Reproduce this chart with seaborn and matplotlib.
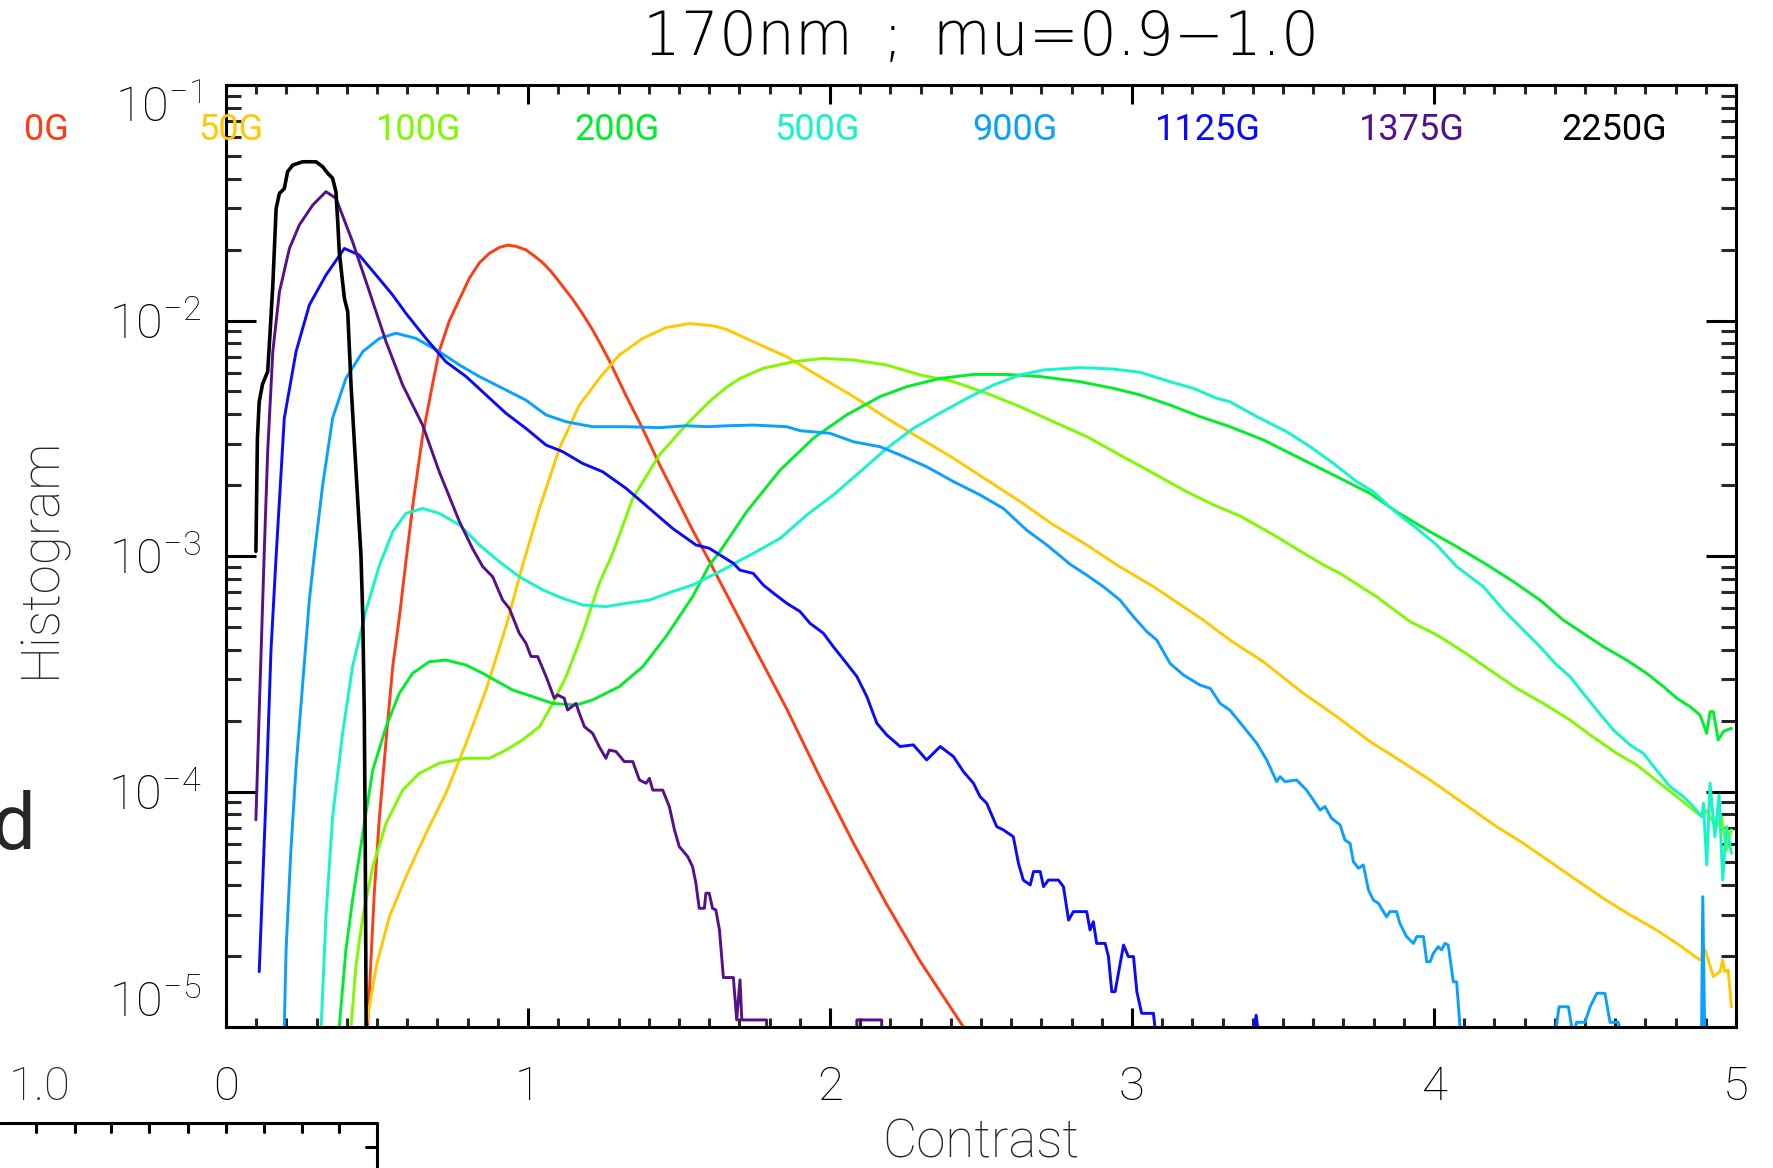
import numpy as np
import pandas as pd
import matplotlib
matplotlib.use("Agg")
import matplotlib.pyplot as plt
from matplotlib.lines import Line2D
from matplotlib.ticker import FixedLocator, FuncFormatter, MultipleLocator, LogLocator, NullFormatter
import seaborn as sns

# ---------------------------------------------------------------------------
# Contrast histograms at 170 nm, mu = 0.9-1.0, for several mean field bins.
# Values are log10(histogram); None splits a curve where the bins are empty.
# ---------------------------------------------------------------------------
fields = ["0G", "50G", "100G", "200G", "500G", "900G", "1125G", "1375G", "2250G"]
colors = ["#ff3c14", "#ffc800", "#7efa00", "#00ee2a", "#14f5c8",
          "#0aa0ff", "#0a0aff", "#55108c", "#000000"]

x_0G = [0.469, 0.491, 0.508, 0.535, 0.552, 0.574, 0.596, 0.62, 0.651, 0.684, 0.706, 0.74,
        0.773, 0.806, 0.839, 0.872, 0.905, 0.933, 0.96, 0.993, 1.02, 1.049, 1.075, 1.10,
        1.148, 1.18, 1.214, 1.24, 1.269, 1.325, 1.38, 1.435, 1.49, 1.545, 1.60, 1.636,
        1.746, 1.857, 1.967, 2.078, 2.188, 2.298, 2.37, 2.442]
lg_0G = [-5.0, -4.43, -4.11, -3.71, -3.47, -3.26, -3.02, -2.77, -2.49, -2.27, -2.13, -2.0,
         -1.91, -1.82, -1.755, -1.715, -1.69, -1.68, -1.685, -1.70, -1.725, -1.755, -1.79,
         -1.83, -1.91, -1.97, -2.04, -2.10, -2.17, -2.32, -2.46, -2.61, -2.75, -2.89, -3.02,
         -3.11, -3.38, -3.65, -3.94, -4.22, -4.48, -4.72, -4.86, -5.0]

x_50G = [0.464, 0.497, 0.541, 0.596, 0.662, 0.728, 0.795, 0.861, 0.927, 0.982, 1.038, 1.104,
         1.17, 1.236, 1.302, 1.38, 1.457, 1.534, 1.611, 1.656, 1.746, 1.857, 1.967, 2.078,
         2.188, 2.298, 2.409, 2.519, 2.63, 2.74, 2.85, 2.95, 3.071, 3.236, 3.3245, 3.435,
         3.567, 3.678, 3.788, 3.876, 3.987, 4.097, 4.207, 4.296, 4.384, 4.472, 4.561, 4.649,
         4.737, 4.804, 4.881, 4.898, 4.925, 4.947, 4.956, 4.963, 4.974, 4.985]
lg_50G = [-5.0, -4.744, -4.532, -4.362, -4.178, -4.008, -3.795, -3.569, -3.3, -3.04, -2.798,
          -2.543, -2.359, -2.246, -2.147, -2.076, -2.03, -2.013, -2.022, -2.037, -2.09, -2.154,
          -2.239, -2.323, -2.415, -2.5, -2.585, -2.677, -2.769, -2.868, -2.953, -3.038, -3.13,
          -3.272, -3.357, -3.449, -3.583, -3.682, -3.788, -3.859, -3.951, -4.05, -4.149,
          -4.22, -4.298, -4.376, -4.454, -4.524, -4.588, -4.645, -4.716, -4.673, -4.786,
          -4.765, -4.716, -4.765, -4.758, -4.914]

x_100G = [0.414, 0.43, 0.453, 0.486, 0.53, 0.585, 0.64, 0.706, 0.795, 0.872, 0.927, 0.982,
          1.038, 1.082, 1.126, 1.181, 1.236, 1.28, 1.347, 1.435, 1.523, 1.60, 1.656, 1.702,
          1.779, 1.879, 1.978, 2.078, 2.188, 2.298, 2.409, 2.519, 2.63, 2.74, 2.85, 2.96,
          3.071, 3.181, 3.27, 3.358, 3.479, 3.545, 3.634, 3.689, 3.81, 3.921, 4.009, 4.097,
          4.185, 4.274, 4.362, 4.45, 4.517, 4.605, 4.671, 4.748, 4.804, 4.859, 4.887, 4.903,
          4.92, 4.936, 4.952, 4.969, 4.985]
lg_100G = [-5.0, -4.744, -4.532, -4.319, -4.135, -3.994, -3.923, -3.88, -3.859, -3.859,
           -3.824, -3.781, -3.725, -3.626, -3.512, -3.328, -3.116, -2.99, -2.755, -2.571,
           -2.444, -2.345, -2.285, -2.246, -2.203, -2.175, -2.161, -2.168, -2.189, -2.231,
           -2.26, -2.309, -2.366, -2.43, -2.493, -2.571, -2.649, -2.727, -2.783, -2.83,
           -2.918, -2.97, -3.038, -3.074, -3.173, -3.279, -3.335, -3.406, -3.484, -3.562,
           -3.626, -3.696, -3.76, -3.838, -3.887, -3.965, -4.022, -4.079, -4.107, -4.079,
           -4.121, -4.149, -4.107, -4.248, -4.163]

x_200G = [0.375, 0.397, 0.419, 0.453, 0.486, 0.53, 0.574, 0.618, 0.673, 0.728, 0.795, 0.85,
          0.949, 1.015, 1.082, 1.159, 1.214, 1.302, 1.38, 1.457, 1.545, 1.60, 1.636, 1.724,
          1.835, 1.945, 2.055, 2.166, 2.254, 2.365, 2.475, 2.585, 2.696, 2.828, 2.938, 3.027,
          3.126, 3.225, 3.3245, 3.435, 3.567, 3.678, 3.788, 3.876, 3.987, 4.075, 4.185, 4.263,
          4.351, 4.428, 4.494, 4.561, 4.638, 4.704, 4.76, 4.804, 4.848, 4.881, 4.903, 4.914,
          4.925, 4.941, 4.958, 4.969, 4.985]
lg_200G = [-5.0, -4.673, -4.461, -4.178, -3.909, -3.725, -3.583, -3.498, -3.449, -3.442,
           -3.463, -3.498, -3.569, -3.597, -3.626, -3.633, -3.611, -3.555, -3.47, -3.342,
           -3.173, -3.04, -2.98, -2.812, -2.635, -2.5, -2.401, -2.323, -2.281, -2.246, -2.229,
           -2.229, -2.238, -2.26, -2.288, -2.316, -2.359, -2.408, -2.451, -2.507, -2.592,
           -2.663, -2.734, -2.812, -2.897, -2.96, -3.045, -3.109, -3.187, -3.272, -3.328,
           -3.385, -3.442, -3.498, -3.555, -3.604, -3.64, -3.675, -3.753, -3.661, -3.661,
           -3.781, -3.746, -3.739, -3.732]

x_500G = [0.315, 0.331, 0.353, 0.386, 0.419, 0.464, 0.508, 0.552, 0.596, 0.651, 0.706, 0.773,
          0.839, 0.905, 0.971, 1.049, 1.115, 1.181, 1.258, 1.325, 1.402, 1.479, 1.545, 1.60,
          1.656, 1.70, 1.746, 1.835, 1.923, 2.011, 2.1, 2.188, 2.276, 2.353, 2.453, 2.541,
          2.63, 2.707, 2.828, 2.938, 3.027, 3.126, 3.203, 3.28, 3.3245, 3.413, 3.512, 3.59,
          3.667, 3.744, 3.799, 3.865, 3.943, 4.009, 4.075, 4.163, 4.23, 4.285, 4.351, 4.401,
          4.45, 4.494, 4.539, 4.594, 4.649, 4.693, 4.737, 4.781, 4.826, 4.859, 4.887, 4.892,
          4.903, 4.914, 4.93, 4.944, 4.956, 4.969, 4.985]
lg_500G = [-5.0, -4.53, -4.107, -3.753, -3.47, -3.229, -3.04, -2.897, -2.819, -2.798, -2.819,
           -2.868, -2.953, -3.024, -3.088, -3.144, -3.18, -3.208, -3.215, -3.201, -3.187,
           -3.151, -3.123, -3.088, -3.052, -3.02, -2.989, -2.925, -2.826, -2.741, -2.642,
           -2.543, -2.458, -2.401, -2.331, -2.274, -2.231, -2.21, -2.2, -2.206, -2.22, -2.26,
           -2.288, -2.33, -2.345, -2.408, -2.472, -2.536, -2.607, -2.684, -2.727, -2.805,
           -2.883, -2.953, -3.045, -3.13, -3.229, -3.3, -3.385, -3.456, -3.512, -3.583,
           -3.654, -3.739, -3.802, -3.838, -3.909, -3.979, -4.022, -4.064, -4.107, -4.05,
           -4.312, -3.965, -4.192, -4.015, -4.376, -4.149, -4.263]

x_900G = [0.193, 0.199, 0.215, 0.232, 0.254, 0.276, 0.292, 0.32, 0.353, 0.397, 0.453, 0.508,
          0.563, 0.629, 0.706, 0.773, 0.839, 0.916, 0.993, 1.06, 1.126, 1.214, 1.325, 1.435,
          1.523, 1.60, 1.656, 1.746, 1.857, 1.901, 2.0, 2.078, 2.166, 2.232, 2.32, 2.409,
          2.497, 2.574, 2.651, 2.718, 2.795, 2.85, 2.905, 2.96, 3.005, 3.049, 3.082, 3.126,
          3.17, 3.225, 3.259, 3.292, 3.3245, 3.369, 3.413, 3.446, 3.479, 3.49, 3.507, 3.545,
          3.578, 3.623, 3.639, 3.661, 3.689, 3.705, 3.722, 3.733, 3.75, 3.766, 3.783, 3.799,
          3.816, 3.843, 3.854, 3.876, 3.887, 3.909, 3.932, 3.943, 3.965, 3.976, 3.987, 3.998,
          4.014, 4.025, 4.036, 4.047, 4.064, 4.075, 4.086,
          None, 4.405, 4.414, 4.445, 4.456,
          None, 4.468, 4.472, 4.50, 4.517, 4.539, 4.566, 4.583, 4.61, 4.614,
          None, 4.886, 4.890, 4.896]
lg_900G = [-5.0, -4.67, -4.248, -3.895, -3.541, -3.187, -3.0, -2.7, -2.415, -2.246, -2.132,
           -2.076, -2.054, -2.076, -2.132, -2.189, -2.238, -2.288, -2.338, -2.401, -2.43,
           -2.451, -2.451, -2.455, -2.447, -2.451, -2.447, -2.444, -2.451, -2.468, -2.479,
           -2.515, -2.536, -2.571, -2.621, -2.684, -2.741, -2.798, -2.89, -2.953, -3.035,
           -3.081, -3.13, -3.187, -3.258, -3.321, -3.357, -3.456, -3.505, -3.548, -3.562,
           -3.626, -3.655, -3.725, -3.795, -3.866, -3.958, -3.937, -3.958, -3.951, -3.994,
           -4.079, -4.064, -4.114, -4.142, -4.206, -4.22, -4.298, -4.326, -4.312, -4.418,
           -4.461, -4.475, -4.532, -4.51, -4.51, -4.56, -4.616, -4.645, -4.616, -4.616,
           -4.723, -4.723, -4.687, -4.659, -4.673, -4.645, -4.652, -4.808, -4.808, -5.0,
           None, -5.0, -4.914, -4.914, -5.0,
           None, -5.0, -4.98, -4.98, -4.914, -4.857, -4.857, -4.98, -4.98, -5.0,
           None, -5.0, -4.447, -5.0]

x_1125G = [0.110, 0.132, 0.149, 0.166, 0.193, 0.232, 0.276, 0.331, 0.392, 0.441, 0.497,
           0.552, 0.596, 0.662, 0.728, 0.795, 0.861, 0.927, 0.993, 1.06, 1.115, 1.181, 1.247,
           1.325, 1.402, 1.479, 1.556, 1.60, 1.636, 1.68, 1.702, 1.746, 1.779, 1.813, 1.857,
           1.901, 1.934, 1.978, 2.011, 2.055, 2.089, 2.122, 2.155, 2.188, 2.232, 2.276, 2.32,
           2.365, 2.409, 2.442, 2.475, 2.497, 2.519, 2.552, 2.574, 2.607, 2.624, 2.64, 2.663,
           2.674, 2.696, 2.707, 2.723, 2.756, 2.773, 2.79, 2.806, 2.85, 2.861, 2.872, 2.883,
           2.911, 2.922, 2.933, 2.944, 2.955, 2.972, 2.988, 3.005, 3.016, 3.032, 3.071, 3.076,
           None, 3.405, 3.411, 3.416]
lg_1125G = [-4.765, -4.036, -3.399, -3.0, -2.415, -2.132, -1.934, -1.807, -1.694, -1.722,
            -1.807, -1.892, -1.97, -2.076, -2.175, -2.238, -2.316, -2.394, -2.458, -2.529,
            -2.557, -2.607, -2.642, -2.713, -2.798, -2.883, -2.953, -2.967, -2.996, -3.031,
            -3.06, -3.074, -3.123, -3.158, -3.201, -3.236, -3.286, -3.328, -3.385, -3.456,
            -3.512, -3.597, -3.71, -3.76, -3.809, -3.802, -3.866, -3.809, -3.852, -3.916,
            -3.965, -4.022, -4.05, -4.149, -4.163, -4.192, -4.305, -4.376, -4.397, -4.34,
            -4.34, -4.404, -4.376, -4.376, -4.404, -4.546, -4.51, -4.51, -4.588, -4.553,
            -4.645, -4.645, -4.701, -4.85, -4.85, -4.772, -4.652, -4.701, -4.701, -4.85,
            -4.942, -4.942, -5.0,
            None, -5.0, -4.95, -5.0]

x_1375G = [0.099, 0.110, 0.127, 0.138, 0.155, 0.177, 0.21, 0.243, 0.287, 0.331, 0.364, 0.419,
           0.475, 0.53, 0.585, 0.651, 0.706, 0.773, 0.817, 0.85, 0.883, 0.916, 0.938, 0.971,
           0.993, 1.01, 1.032, 1.06, 1.087, 1.098, 1.12, 1.131, 1.159, 1.17, 1.187, 1.214,
           1.236, 1.258, 1.269, 1.291, 1.319, 1.347, 1.369, 1.391, 1.402, 1.413, 1.446, 1.468,
           1.485, 1.501, 1.529, 1.545, 1.556, 1.567, 1.584, 1.589, 1.60, 1.611, 1.622, 1.634,
           1.647, 1.68, 1.691, 1.702, 1.708, 1.79, 1.791,
           None, 2.088, 2.089, 2.171, 2.172]
lg_1375G = [-4.12, -3.66, -2.97, -2.557, -2.132, -1.878, -1.694, -1.594, -1.51, -1.453,
            -1.481, -1.665, -1.878, -2.09, -2.274, -2.444, -2.642, -2.854, -2.97, -3.045,
            -3.088, -3.187, -3.222, -3.328, -3.37, -3.427, -3.427, -3.512, -3.604, -3.59,
            -3.604, -3.654, -3.626, -3.668, -3.725, -3.753, -3.81, -3.859, -3.824, -3.83,
            -3.873, -3.873, -3.951, -3.965, -3.944, -3.994, -3.994, -4.064, -4.163, -4.234,
            -4.277, -4.319, -4.39, -4.496, -4.496, -4.432, -4.432, -4.496, -4.503, -4.588,
            -4.79, -4.79, -4.97, -4.80, -4.97, -4.97, -5.1,
            None, -5.1, -4.97, -4.97, -5.1]

x_2250G = [0.099, 0.104, 0.110, 0.121, 0.138, 0.146, 0.155, 0.166, 0.177, 0.193, 0.204, 0.221,
           0.254, 0.298, 0.32, 0.337, 0.353, 0.364, 0.370, 0.375, 0.392, 0.403, 0.414, 0.43,
           0.447, 0.453, 0.458, 0.461, 0.464]
lg_2250G = [-2.98, -2.5, -2.345, -2.27, -2.217, -2.05, -1.85, -1.524, -1.46, -1.44, -1.368,
            -1.34, -1.326, -1.326, -1.347, -1.375, -1.396, -1.453, -1.58, -1.708, -1.906,
            -1.962, -2.274, -2.628, -3.0, -3.26, -3.68, -4.2, -5.0]

contrast_by_field = [x_0G, x_50G, x_100G, x_200G, x_500G, x_900G, x_1125G, x_1375G, x_2250G]
loghist_by_field = [lg_0G, lg_50G, lg_100G, lg_200G, lg_500G, lg_900G, lg_1125G, lg_1375G, lg_2250G]

# long-form table: one row per sample, a segment id per unbroken stretch
rows = []
for name, xs, ls in zip(fields, contrast_by_field, loghist_by_field):
    seg = 0
    for xv, lv in zip(xs, ls):
        if xv is None:
            seg += 1
            continue
        rows.append((name, f"{name}:{seg}", xv, 10.0 ** lv))
df = pd.DataFrame(rows, columns=["field", "segment", "contrast", "histogram"])

# ---------------------------------------------------------------------------
sns.set_theme(style="white")
plt.rcParams["font.family"] = ["Roboto", "DejaVu Sans"]
plt.rcParams["font.weight"] = "light"
plt.rcParams["axes.linewidth"] = 2.2
plt.rcParams["axes.edgecolor"] = "black"

W, H = 1774, 1168
fig = plt.figure(figsize=(W / 100, H / 100), dpi=100)
fig.patch.set_facecolor("white")
ax = fig.add_axes([226 / W, 1 - 1027 / H, 1510 / W, 942 / H])
ax.set_yscale("log")
ax.set_xlim(0, 5)
ax.set_ylim(1e-5, 1e-1)

for name, col in zip(fields, colors):
    sub = df[df["field"] == name]
    sns.lineplot(data=sub, x="contrast", y="histogram", units="segment", estimator=None,
                 sort=False, color=col, lw=2.6 if name == "2250G" else 2.1, ax=ax,
                 legend=False)

ax.set_xlim(0, 5)
ax.set_ylim(1e-5, 1e-1)
ax.set_xlabel("")
ax.set_ylabel("")

# ticks on all four sides, pointing inward
ax.xaxis.set_major_locator(MultipleLocator(1))
ax.xaxis.set_minor_locator(MultipleLocator(0.1))
ax.xaxis.set_major_formatter(FuncFormatter(lambda v, p: f"{v:.0f}"))
ax.yaxis.set_major_locator(FixedLocator([1e-5, 1e-4, 1e-3, 1e-2, 1e-1]))
ax.yaxis.set_minor_locator(LogLocator(base=10, subs=np.arange(2, 10)))
ax.yaxis.set_minor_formatter(NullFormatter())
ax.yaxis.set_major_formatter(
    FuncFormatter(lambda v, p: r"$\mathregular{10^{%d}}$" % int(round(np.log10(v)))))

ax.tick_params(axis="x", which="major", direction="in", length=13.5, width=2.2,
               top=True, bottom=True, labelsize=34, pad=27, colors="black")
ax.tick_params(axis="x", which="minor", direction="in", length=6.5, width=2.2,
               top=True, bottom=True)
ax.tick_params(axis="y", which="major", direction="in", length=21.5, width=2.2,
               left=True, right=True, labelsize=35, pad=18, colors="black")
ax.tick_params(axis="y", which="minor", direction="in", length=10.8, width=2.2,
               left=True, right=True)
for s in ax.spines.values():
    s.set_visible(True)
    s.set_color("black")
    s.set_linewidth(2.2)
ax.grid(False)

# the end labels of the y axis sit inside the frame
yt = ax.yaxis.get_major_ticks()
yt[0].label1.set_verticalalignment("bottom")
yt[-1].label1.set_verticalalignment("top")

# title and axis labels
ax_cx = (226 + 1736) / 2 / W
fig.text(ax_cx, 1 - 39 / H, "170nm\u2002;\u2002mu=0.9\u22121.0", ha="center", va="center",
         fontsize=43, color="black", family=["DejaVu Sans", "Roboto"], fontweight="light")
fig.text(ax_cx, 1 - 1158 / H, "Contrast", ha="center", va="baseline", fontsize=38)
fig.text(41 / W, 0.523, "Histogram", ha="center", va="center", rotation=90, fontsize=38)

# field labels across the top, right-aligned
label_right_px = [69, 263, 461, 660, 860, 1058, 1261, 1465, 1667]
for name, col, xr in zip(fields, colors, label_right_px):
    fig.text(xr / W, 1 - 140 / H, name, ha="right", va="baseline", fontsize=26,
             color=col, fontweight="normal")

# edge of the neighbouring panels
fig.text(35 / W, 1 - 849 / H, "d", ha="right", va="baseline", fontsize=56,
         fontweight="normal")
fig.text(71 / W, 1 - 1100 / H, "1.0", ha="right", va="baseline", fontsize=34)
lw_frame = 2.2
fig.add_artist(Line2D([0, 377 / W], [1 - 1123 / H, 1 - 1123 / H], color="black",
                      lw=lw_frame, transform=fig.transFigure))
fig.add_artist(Line2D([377 / W, 377 / W], [1 - 1123 / H, 0], color="black",
                      lw=lw_frame, transform=fig.transFigure))
for px in [36, 75, 111, 149, 188, 226, 264, 302, 339]:
    fig.add_artist(Line2D([px / W, px / W], [1 - 1123 / H, 1 - 1132 / H], color="black",
                          lw=lw_frame, transform=fig.transFigure))
fig.add_artist(Line2D([366 / W, 377 / W], [1 - 1147 / H, 1 - 1147 / H], color="black",
                      lw=lw_frame, transform=fig.transFigure))

fig.savefig("out.png", dpi=100, facecolor="white")
